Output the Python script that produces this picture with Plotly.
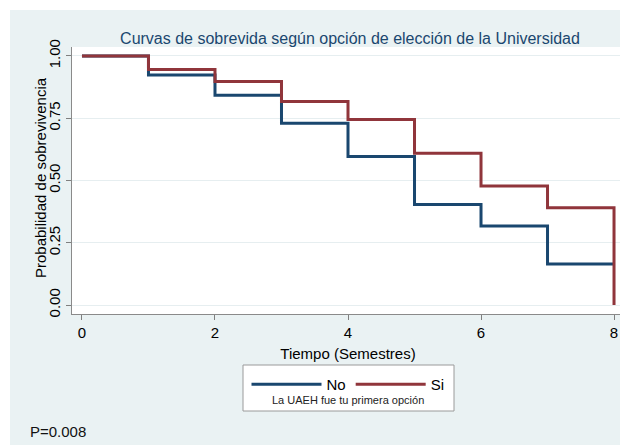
import plotly.graph_objects as go

# Data
tiempo = [0, 1, 2, 3, 4, 5, 6, 7, 8]
surv_no = [1.0, 0.924, 0.842, 0.730, 0.596, 0.404, 0.317, 0.165, 0.165]
surv_si = [1.0, 0.946, 0.897, 0.817, 0.745, 0.609, 0.478, 0.391, 0.0]
series_names = ["No", "Si"]
x_ticks = [0, 2, 4, 6, 8]
y_ticks = [0.0, 0.25, 0.5, 0.75, 1.0]

BLUE = "#1a476f"
RED = "#90353b"
BG = "#eaf2f3"
FONT = "Liberation Sans, Arial, sans-serif"

OFF = 8  # page body margin
W, H = 620, 440
ML, MT = 72 - OFF, 47 - OFF
PR, PB = 624 - OFF, 314 - OFF
MR, MB = W - PR, H - PB
PW, PH = W - ML - MR, H - MT - MB


def px_x(px):
    return (px - OFF - ML) / PW


def px_y(py):
    return (PB - (py - OFF)) / PH


fig = go.Figure()
fig.add_trace(go.Scatter(x=tiempo, y=surv_no, mode="lines", name=series_names[0],
                         line=dict(color=BLUE, width=3, shape="hv")))
fig.add_trace(go.Scatter(x=tiempo, y=surv_si, mode="lines", name=series_names[1],
                         line=dict(color=RED, width=3, shape="hv")))

shapes = [
    # white outer border strips
    dict(type="rect", xref="paper", yref="paper", x0=px_x(0), x1=px_x(700), y0=px_y(10), y1=px_y(0),
         fillcolor="white", line=dict(width=0), layer="below"),
    dict(type="rect", xref="paper", yref="paper", x0=px_x(0), x1=px_x(10), y0=px_y(500), y1=px_y(0),
         fillcolor="white", line=dict(width=0), layer="below"),
    dict(type="rect", xref="paper", yref="paper", x0=px_x(0), x1=px_x(700), y0=px_y(500), y1=px_y(445),
         fillcolor="white", line=dict(width=0), layer="below"),
    # legend box
    dict(type="rect", xref="paper", yref="paper", x0=px_x(243), x1=px_x(454), y0=px_y(411), y1=px_y(365),
         fillcolor="white", line=dict(color="#9a9a9a", width=1), layer="below"),
]

annotations = [
    dict(text="Probabilidad de sobrevivencia", xref="paper", yref="paper",
         x=px_x(40), y=px_y(178), xanchor="center", yanchor="middle", showarrow=False,
         textangle=-90, font=dict(family=FONT, size=15, color="black")),
    dict(text="La UAEH fue tu primera opción", xref="paper", yref="paper",
         x=px_x(348), y=px_y(400), xanchor="center", yanchor="middle", showarrow=False,
         font=dict(family=FONT, size=11, color="#222222")),
    dict(text="P=0.008", xref="paper", yref="paper",
         x=px_x(28), y=px_y(431), xanchor="left", yanchor="middle", showarrow=False,
         font=dict(family=FONT, size=15, color="#111111")),
]

fig.update_layout(
    width=W, height=H,
    margin=dict(l=ML, r=MR, t=MT, b=MB),
    paper_bgcolor=BG, plot_bgcolor="white",
    font=dict(family=FONT, color="black"),
    title=dict(text="Curvas de sobrevida según opción de elección de la Universidad",
               x=px_x(350), xref="paper", xanchor="center",
               y=1 - (38 - OFF) / H, yref="container", yanchor="middle",
               font=dict(family=FONT, size=16, color=BLUE)),
    xaxis=dict(range=[-0.15, 8.15], tickvals=x_ticks, ticks="outside", ticklen=5,
               tickcolor="#7f7f7f", showline=True, linecolor="#8a8a8a", linewidth=1,
               showgrid=False, zeroline=False, tickfont=dict(size=15),
               title=dict(text="Tiempo (Semestres)", font=dict(size=15), standoff=8)),
    yaxis=dict(range=[-0.036, 1.036], tickvals=y_ticks, tickformat=".2f", tickangle=-90,
               ticks="outside", ticklen=5, tickcolor="#7f7f7f", showline=True,
               linecolor="#8a8a8a", linewidth=1, showgrid=True, gridcolor="#e6eef0",
               gridwidth=1, zeroline=False, tickfont=dict(size=15)),
    showlegend=True,
    legend=dict(orientation="h", x=px_x(348), xanchor="center", y=px_y(368), yanchor="top",
                bgcolor="rgba(0,0,0,0)", borderwidth=0, font=dict(size=15),
                itemwidth=70, traceorder="normal"),
    shapes=shapes,
    annotations=annotations,
)

fig.write_html("out.html")
